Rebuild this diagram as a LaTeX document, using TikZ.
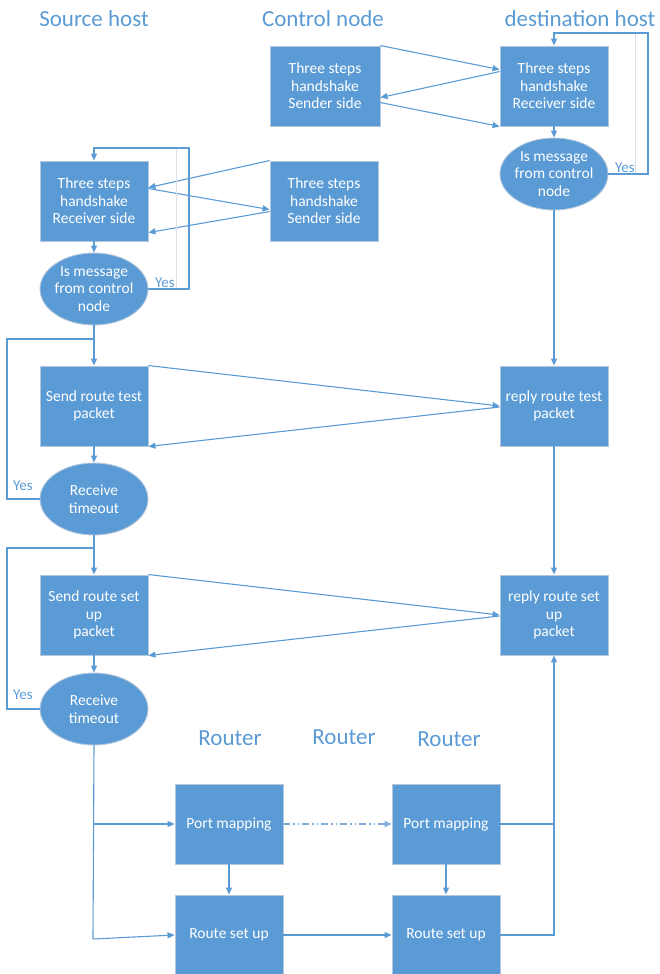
\documentclass[tikz,border=0pt]{standalone}
\usepackage{fontspec}
\setmainfont{Carlito}
\usetikzlibrary{arrows.meta,shapes.geometric,calc}

\definecolor{vblue}{HTML}{5B9BD5}
\definecolor{vedge}{HTML}{B4C7DC}
\definecolor{vdash}{HTML}{7FAEDD}
\definecolor{vgray}{HTML}{DCE1E8}

\newcommand{\boxtext}{\fontsize{15.5}{17.5}\selectfont}
\newcommand{\titletext}{\fontsize{23}{26}\selectfont}
\newcommand{\yestext}{\fontsize{15}{17}\selectfont}

\tikzset{
  stepbox/.style={rectangle, fill=vblue, draw=vedge, line width=0.9pt,
    minimum width=108pt, minimum height=80pt, inner sep=0pt,
    text=white, font=\boxtext, align=center},
  askoval/.style={ellipse, fill=vblue, draw=vedge, line width=0.9pt,
    minimum width=108pt, minimum height=72pt, inner xsep=-6pt, inner ysep=-4pt,
    text=white, font=\boxtext, align=center},
  heading/.style={text=vblue, font=\titletext, inner sep=0pt},
  yeslabel/.style={text=vblue, font=\yestext, inner sep=0pt},
  link/.style={draw=vblue, line width=1.1pt},
  flow/.style={link, -{Triangle[length=7pt,width=6pt]}},
  faint/.style={draw=vgray, line width=0.8pt},
}

\begin{document}
\begin{tikzpicture}[x=1pt, y=-1pt]
\useasboundingbox (0,0) rectangle (659,974);

% column headings
\node[heading] (hsrc)  at (94,19)  {Source host};
\node[heading] (hctl)  at (323,19) {Control node};
\node[heading] (hdst)  at (580,19) {destination host};
\node[heading] (hr1)   at (230,738) {Router};
\node[heading] (hr2)   at (344,737) {Router};
\node[heading] (hr3)   at (449,739) {Router};

% control node and destination handshake
\node[stepbox, minimum width=110pt] (ctlA) at (325,86) {Three steps\\handshake\\Sender side};
\node[stepbox] (dstRx) at (554,86) {Three steps\\handshake\\Receiver side};
\node[askoval] (dstQ) at (554,174) {Is message\\from control\\node};

% source handshake
\node[stepbox] (srcRx) at (94,201) {Three steps\\handshake\\Receiver side};
\node[stepbox] (ctlB) at (324,201) {Three steps\\handshake\\Sender side};
\node[askoval] (srcQ) at (94,289) {Is message\\from control\\node};

% route test
\node[stepbox] (sendT) at (94,406) {Send route test\\packet};
\node[stepbox] (replyT) at (554,406) {reply route test\\packet};
\node[askoval] (tout1) at (94,499) {Receive\\timeout};

% route set up
\node[stepbox] (sendS) at (94,615) {Send route set\\up\\packet};
\node[stepbox] (replyS) at (554,615) {reply route set\\up\\packet};
\node[askoval] (tout2) at (94,709) {Receive\\timeout};

% routers
\node[stepbox] (pm1) at (229,824) {Port mapping};
\node[stepbox] (pm2) at (446,824) {Port mapping};
\node[stepbox] (rs1) at (229,935) {Route set up};
\node[stepbox] (rs2) at (446,935) {Route set up};

% junction points
\coordinate (jT) at (94,339);
\coordinate (jS) at (94,548);
\coordinate (jB) at (93,939);
\coordinate (jP) at (94,824);
\coordinate (jR) at (554,824);

% handshake between control node and destination
\draw[flow] (ctlA.north east) -- ($(dstRx.north west)+(0,24)$);
\draw[flow] ($(dstRx.north west)+(0,26)$) -- ($(ctlA.north east)+(0,52)$);
\draw[flow] ($(ctlA.north east)+(0,57)$) -- (dstRx.south west);
\draw[flow] (dstRx.south) -- (dstQ.north);

% destination: retry when message is from control node
\draw[faint] (635,33) -- (635,174);
\draw[flow] (dstQ.east) -- (648,174) -- (648,33) -- (554,33) -- (dstRx.north);
\node[yeslabel] (ydst) at (625,168) {Yes};

% handshake between control node and source
\draw[flow] (ctlB.north west) -- ($(srcRx.north east)+(0,27)$);
\draw[flow] ($(srcRx.north east)+(0,28)$) -- ($(ctlB.north west)+(0,49)$);
\draw[flow] ($(ctlB.north west)+(0,51)$) -- ($(srcRx.north east)+(0,72)$);
\draw[flow] (srcRx.south) -- (srcQ.north);

% source: retry when message is from control node
\draw[faint] (176,148) -- (176,289);
\draw[flow] (srcQ.east) -- (189,289) -- (189,148) -- (94,148) -- (srcRx.north);
\node[yeslabel] (ysrc) at (165,283) {Yes};

% route test exchange
\draw[link] (srcQ.south) -- (jT);
\draw[flow] (jT) -- (sendT.north);
\draw[flow] (sendT.north east) -- (replyT.west);
\draw[flow] ($(replyT.west)+(0,1)$) -- (sendT.south east);
\draw[flow] (sendT.south) -- (tout1.north);
\draw[link] (tout1.west) -- (7,499) -- (7,339) -- (jT);
\node[yeslabel] (yt1) at (23,486) {Yes};
\draw[flow] (dstQ.south) -- (replyT.north);

% route set up exchange
\draw[link] (tout1.south) -- (jS);
\draw[flow] (jS) -- (sendS.north);
\draw[flow] (sendS.north east) -- (replyS.west);
\draw[flow] ($(replyS.west)+(0,1)$) -- (sendS.south east);
\draw[flow] (sendS.south) -- (tout2.north);
\draw[link] (tout2.west) -- (7,709) -- (7,548) -- (jS);
\node[yeslabel] (yt2) at (23,695) {Yes};
\draw[flow] (replyT.south) -- (replyS.north);

% path through the routers
\draw[link] (tout2.south) -- (jB);
\draw[flow] (jP) -- (pm1.west);
\draw[flow] (jB) -- (rs1.west);
\draw[draw=vdash, line width=1.2pt, dash pattern=on 7pt off 3pt on 1.5pt off 3pt on 1.5pt off 3pt,
  -{Triangle[length=7pt,width=6pt]}] (pm1.east) -- (pm2.west);
\draw[flow] (pm1.south) -- (rs1.north);
\draw[flow] (pm2.south) -- (rs2.north);
\draw[flow] (rs1.east) -- (rs2.west);
\draw[link] (pm2.east) -- (jR);
\draw[flow] (rs2.east) -- (554,935) -- (replyS.south);
\end{tikzpicture}
\end{document}
